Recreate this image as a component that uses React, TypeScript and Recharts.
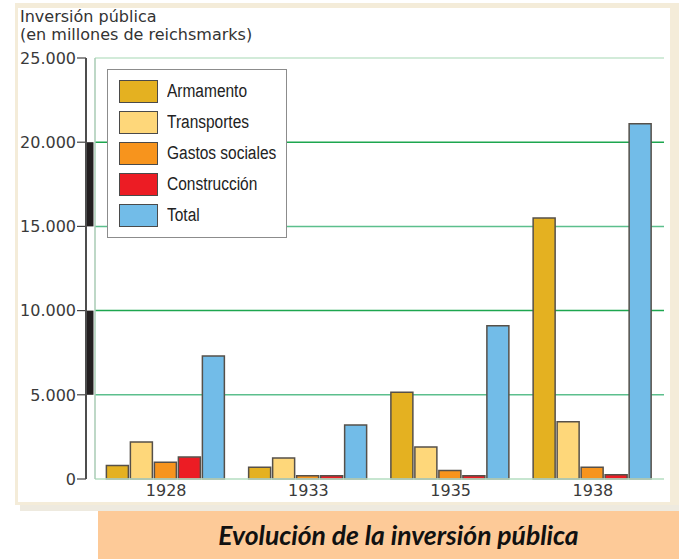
import React from 'react';
import { BarChart, Bar, XAxis, YAxis, CartesianGrid, Legend } from 'recharts';

// Inversión pública, millones de reichsmarks
const years = ['1928', '1933', '1935', '1938'];
const armamento = [800, 700, 5150, 15500];
const transportes = [2200, 1250, 1900, 3400];
const gastosSociales = [1000, 200, 500, 700];
const construccion = [1300, 200, 200, 250];
const total = [7300, 3200, 9100, 21100];
const yTicks = [0, 5000, 10000, 15000, 20000, 25000];

const series = [
    { key: 'armamento', name: 'Armamento', color: '#e4b121' },
    { key: 'transportes', name: 'Transportes', color: '#fed77a' },
    { key: 'gastos', name: 'Gastos sociales', color: '#f7941d' },
    { key: 'construccion', name: 'Construcción', color: '#ec1c24' },
    { key: 'total', name: 'Total', color: '#72bce8' },
];

const data = years.map((year, i) => ({
    year,
    armamento: armamento[i],
    transportes: transportes[i],
    gastos: gastosSociales[i],
    construccion: construccion[i],
    total: total[i],
}));

const W = 679;
const H = 559;
const MARGIN = { top: 58, right: 15, bottom: 50, left: 35 };
const Y_AXIS_W = 60;
const X_AXIS_H = 30;
const PLOT_H = H - MARGIN.top - MARGIN.bottom - X_AXIS_H;
const STEP = PLOT_H / (yTicks.length - 1);
const PLOT_LEFT = MARGIN.left + Y_AXIS_W;

const AXIS_FONT = "'DejaVu Sans', Verdana, sans-serif";
const gridColors = ['#c3e4cd', '#5cbf8d', '#1da64f', '#5cbf8d', '#1da64f', '#c3e4cd'];

const fmt = (v: number) => String(v).replace(/\B(?=(\d{3})+(?!\d))/g, '.');

const YTick = (props: any) => {
    const { x, y, payload } = props;
    const v = Number(payload.value);
    const px = Number(x);
    const py = Number(y);
    const ax = px - 9;
    return (
        <g>
            {(v === 20000 || v === 10000) && (
                <rect x={ax - 0.5} y={py} width={8} height={STEP} fill="#231f20" />
            )}
            <path d={`M${px - 18},${py}H${ax}`} stroke="#444" strokeWidth={1.2} fill="none" />
            <text x={px - 19} y={py} dy="0.36em" textAnchor="end" fill="#3a3a3a" fontSize={16} fontFamily={AXIS_FONT}>
                {fmt(v)}
            </text>
        </g>
    );
};

const gridLine = (props: any) => {
    const { x1, x2, y1, y2, index } = props;
    return <line key={`g-${index}`} x1={x1} x2={x2} y1={y1} y2={y2} stroke={gridColors[index] || '#5cbf8d'} strokeWidth={1.5} />;
};

const renderLegend = () => (
    <div
        style={{
            width: 180,
            height: 169,
            boxSizing: 'border-box',
            border: '1px solid #8c8c8c',
            background: '#fff',
            padding: '6px 0 0 11px',
        }}
    >
        {series.map((s) => (
            <div key={s.key} style={{ display: 'flex', alignItems: 'center', height: 31, whiteSpace: 'nowrap' }}>
                <span
                    style={{
                        width: 39,
                        height: 23,
                        flex: 'none',
                        boxSizing: 'border-box',
                        background: s.color,
                        border: '1.5px solid #4a4a4a',
                    }}
                />
                <span
                    style={{
                        marginLeft: 9,
                        display: 'inline-block',
                        transform: 'scaleX(0.86)',
                        transformOrigin: 'left center',
                        fontFamily: "'Liberation Sans', Arial, sans-serif",
                        fontSize: 18,
                        color: '#222',
                    }}
                >
                    {s.name}
                </span>
            </div>
        ))}
    </div>
);

export default function App() {
    return (
        <div style={{ position: 'absolute', left: 0, top: 0, width: W, height: H, background: '#fff', overflow: 'hidden' }}>
            {/* frame */}
            <div style={{ position: 'absolute', left: 15, top: 3, width: 664, height: 502, background: '#f4ecd9' }} />
            <div style={{ position: 'absolute', left: 20, top: 505, width: 659, height: 6, background: '#eeeadf' }} />
            <div style={{ position: 'absolute', left: 18, top: 8, width: 652, height: 494, background: '#fff' }} />

            <div
                style={{
                    position: 'absolute',
                    left: 20,
                    top: 8,
                    fontFamily: AXIS_FONT,
                    fontSize: 16,
                    lineHeight: '18px',
                    color: '#333',
                }}
            >
                Inversión pública
                <br />
                (en millones de reichsmarks)
            </div>

            <div style={{ position: 'absolute', left: 0, top: 0 }}>
                <BarChart width={W} height={H} data={data} margin={MARGIN} barCategoryGap="8%" barGap={2}>
                    <CartesianGrid vertical={false} horizontal={gridLine} />
                    <XAxis
                        dataKey="year"
                        height={X_AXIS_H}
                        tickSize={0}
                        tickMargin={6}
                        tickLine={false}
                        axisLine={{ stroke: '#c3e4cd', strokeWidth: 1.5 }}
                        tick={{ fill: '#3a3a3a', fontSize: 16, fontFamily: AXIS_FONT }}
                    />
                    <YAxis
                        domain={[0, 25000]}
                        ticks={yTicks}
                        interval={0}
                        width={Y_AXIS_W}
                        tickSize={0}
                        tickMargin={0}
                        tickLine={false}
                        axisLine={{ stroke: '#a9cbb5', strokeWidth: 1.5 }}
                        tick={<YTick />}
                    />
                    <YAxis
                        yAxisId="right"
                        orientation="right"
                        domain={[0, 25000]}
                        width={0}
                        tick={false}
                        tickLine={false}
                        axisLine={{ stroke: '#c3e4cd', strokeWidth: 1.5 }}
                    />
                    <Legend
                        layout="vertical"
                        align="center"
                        verticalAlign="middle"
                        content={renderLegend}
                        wrapperStyle={{ left: 107, top: 69, right: 'auto', bottom: 'auto', width: 180 }}
                    />
                    {series.map((s) => (
                        <Bar
                            key={s.key}
                            dataKey={s.key}
                            name={s.name}
                            fill={s.color}
                            stroke="#565049"
                            strokeWidth={1.5}
                            isAnimationActive={false}
                        />
                    ))}
                </BarChart>
            </div>

            {/* outer axis rule, left of the black bands */}
            <div
                style={{
                    position: 'absolute',
                    left: PLOT_LEFT - 10,
                    top: MARGIN.top,
                    width: 1.6,
                    height: PLOT_H,
                    background: '#4d4d4d',
                }}
            />

            <div
                style={{
                    position: 'absolute',
                    left: 98,
                    top: 511,
                    width: 581,
                    height: 48,
                    background: '#fdca98',
                    display: 'flex',
                    alignItems: 'center',
                    justifyContent: 'center',
                    paddingLeft: 20,
                    boxSizing: 'border-box',
                    fontFamily: "Lato, 'Open Sans', sans-serif",
                    fontWeight: 700,
                    fontStyle: 'italic',
                    fontSize: 26.5,
                    color: '#111',
                }}
            >
                Evolución de la inversión pública
            </div>
        </div>
    );
}
